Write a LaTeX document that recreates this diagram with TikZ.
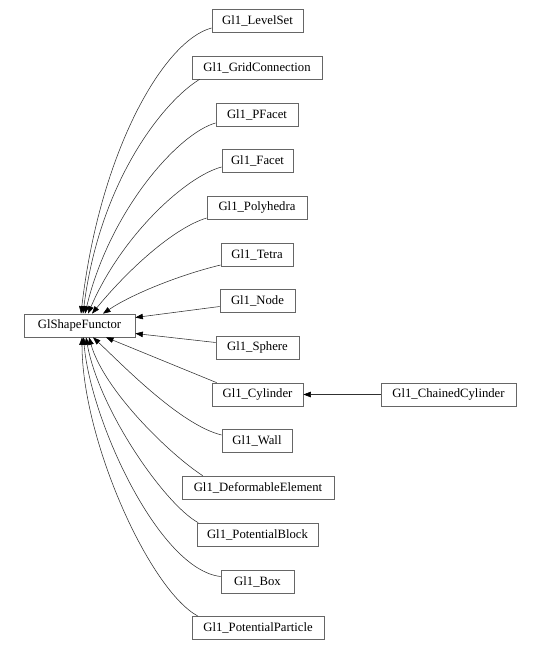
\documentclass[tikz,border=0pt]{standalone}
\usepackage{fontspec}
\setmainfont{Liberation Serif}
\usetikzlibrary{arrows.meta}
\definecolor{boxcol}{HTML}{666666}
\definecolor{edgecol}{HTML}{303030}
\tikzset{
  cls/.style={draw=boxcol, line width=0.7pt, fill=white, minimum height=23pt, inner sep=0pt,
    font=\fontsize{12.7}{14}\selectfont, text=black},
  inh/.style={draw=edgecol, line width=0.55pt, -{Triangle[length=7.5pt,width=5.5pt,color=black]}}
}
\begin{document}
\begin{tikzpicture}[x=1pt,y=-1pt]
\useasboundingbox (0,0) rectangle (541,650);
\node[cls, minimum width=111pt] (base) at (79.5,325.5) {GlShapeFunctor};
\node[cls, minimum width=91pt]  (levelset) at (257.5,20.5) {Gl1\_LevelSet};
\node[cls, minimum width=130pt] (grid) at (257,67.5) {Gl1\_GridConnection};
\node[cls, minimum width=82pt]  (pfacet) at (257,114.5) {Gl1\_PFacet};
\node[cls, minimum width=71pt]  (facet) at (257.5,160.5) {Gl1\_Facet};
\node[cls, minimum width=100pt] (poly) at (257,207.5) {Gl1\_Polyhedra};
\node[cls, minimum width=72pt]  (tetra) at (257,254.5) {Gl1\_Tetra};
\node[cls, minimum width=75pt]  (gnode) at (257.5,301) {Gl1\_Node};
\node[cls, minimum width=83pt]  (sphere) at (257.5,347.5) {Gl1\_Sphere};
\node[cls, minimum width=91pt]  (cyl) at (257.5,394.5) {Gl1\_Cylinder};
\node[cls, minimum width=135pt] (chained) at (448.5,394.5) {Gl1\_ChainedCylinder};
\node[cls, minimum width=70pt]  (wall) at (257,441) {Gl1\_Wall};
\node[cls, minimum width=152pt] (deform) at (258,487.5) {Gl1\_DeformableElement};
\node[cls, minimum width=121pt] (pblock) at (257.5,534.5) {Gl1\_PotentialBlock};
\node[cls, minimum width=73pt]  (gbox) at (257.5,581.5) {Gl1\_Box};
\node[cls, minimum width=132pt] (ppart) at (258,628) {Gl1\_PotentialParticle};

% upper edges
\draw[inh] ([yshift=-7.5pt]levelset.west) .. controls +(-47,12) and +(19,-164) .. ([xshift=1.5pt]base.north);
\draw[inh] ([xshift=8pt]grid.south west) .. controls +(-35,21) and +(17,-134) .. ([xshift=3.5pt]base.north);
\draw[inh] ([yshift=-8.5pt]pfacet.west) .. controls +(-36.7,10) and +(25,-104) .. ([xshift=5.5pt]base.north);
\draw[inh] ([yshift=-6.5pt]facet.west) .. controls +(-35,9) and +(34,-79) .. ([xshift=8.5pt]base.north);
\draw[inh] ([yshift=-10.5pt]poly.west) .. controls +(-33,10) and +(36,-44) .. ([xshift=12.5pt]base.north);
\draw[inh] ([yshift=-10.5pt]tetra.west) .. controls +(-41.7,10) and +(28,-19) .. ([xshift=23.5pt]base.north);
\draw[inh] ([yshift=-5.5pt]gnode.west) -- ([yshift=8pt]base.east);
\draw[inh] ([yshift=5pt]sphere.west) -- ([yshift=-8pt]base.east);
\draw[inh] ([xshift=5pt]cyl.north west) -- ([xshift=26.5pt]base.south);
\draw[inh] (chained.west) -- (cyl.east);
% lower edges
\draw[inh] ([yshift=6pt]wall.west) .. controls +(-41.7,-10) and +(27,25) .. ([xshift=13.5pt]base.south);
\draw[inh] ([xshift=21pt]deform.north west) .. controls +(-33.3,-21.7) and +(15,53) .. ([xshift=9.5pt]base.south);
\draw[inh] ([xshift=1.5pt]pblock.north west) .. controls +(-33.3,-18.3) and +(13.3,73) .. ([xshift=6.5pt]base.south);
\draw[inh] ([yshift=5pt]gbox.west) .. controls +(-61.7,-6.7) and +(7,83) .. ([xshift=4pt]base.south);
\draw[inh] ([xshift=6.3pt]ppart.north west) .. controls +(-48.3,-26) and +(0,103) .. ([xshift=2.5pt]base.south);
\end{tikzpicture}
\end{document}
